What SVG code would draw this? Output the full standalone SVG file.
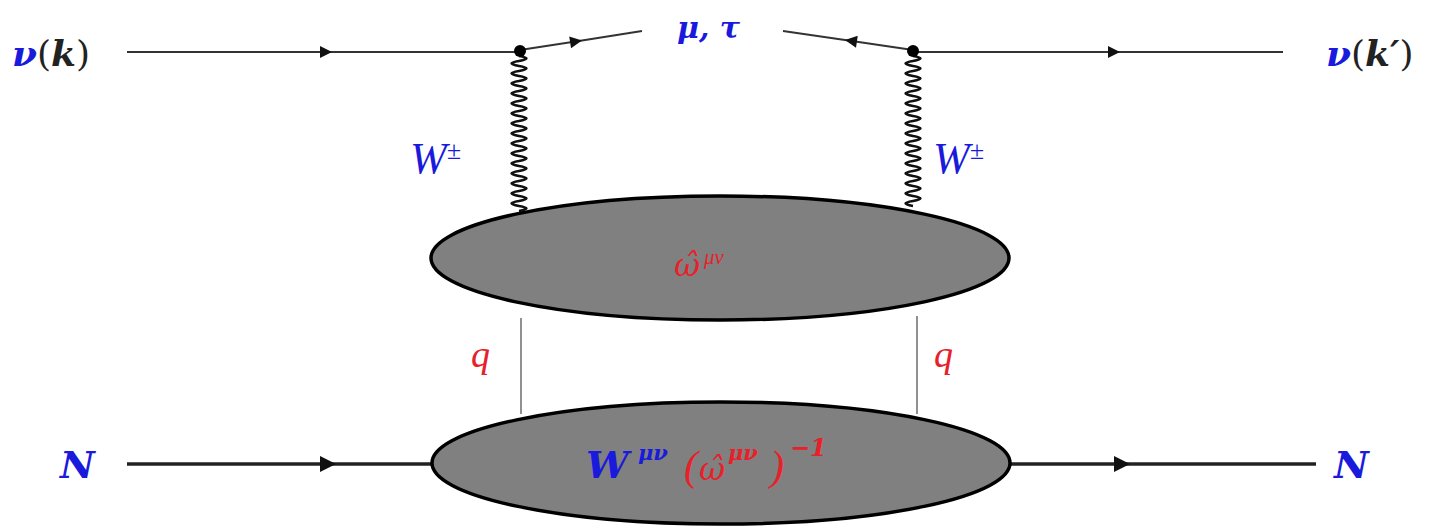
<svg xmlns="http://www.w3.org/2000/svg" width="1445" height="526" viewBox="0 0 1445 526">
<style>
.m{font-family:"DejaVu Serif","Liberation Serif",serif;font-style:italic;font-weight:bold}
.r{font-family:"Liberation Serif","DejaVu Serif",serif;font-style:italic;font-weight:normal}
.w{font-family:"DejaVu Serif",serif;font-style:italic;font-weight:normal}
.up{font-family:"DejaVu Serif","Liberation Serif",serif;font-style:normal;font-weight:normal}
.blue{fill:#1a1adc}
.red{fill:#e8202a}
.blk{fill:#222}
.thin{stroke:#333;stroke-width:2;fill:none}
.thick{stroke:#222;stroke-width:3.5;fill:none}
.vline{stroke:#555;stroke-width:1.3;fill:none}
.wave{stroke:#111;stroke-width:2.4;fill:none}
.blob{fill:#808080;stroke:#000;stroke-width:3.5}
</style>
<defs>
<marker id="arr" viewBox="0 0 10 10" refX="10" refY="5" markerWidth="20" markerHeight="12" markerUnits="userSpaceOnUse" orient="auto">
<path d="M0,0 L10,5 L0,10 Z" fill="#111"/>
</marker>
<marker id="arrB" viewBox="0 0 10 10" refX="10" refY="5" markerWidth="26" markerHeight="16" markerUnits="userSpaceOnUse" orient="auto">
<path d="M0,0 L10,5 L0,10 Z" fill="#111"/>
</marker>
</defs>
<g id="connectors">
<path class="thin" d="M127,52 L332,52 L520,52" marker-mid="url(#arr)"/>
<path class="thin" d="M913,52 L1120,52 L1283,52" marker-mid="url(#arr)"/>
<path class="thin" d="M520,50 L582,40.5 L642,31" marker-mid="url(#arr)"/>
<path class="thin" d="M913,50 L845,40 L783,31" marker-mid="url(#arr)"/>
<path class="thick" d="M127,464 L336,464 L433,464" marker-mid="url(#arrB)"/>
<path class="thick" d="M1010,464 L1130,464 L1316,464" marker-mid="url(#arrB)"/>
<path class="wave" d="M519,56 q15,2.5 0,5 q-15,2.5 0,5 q15,2.5 0,5 q-15,2.5 0,5 q15,2.5 0,5 q-15,2.5 0,5 q15,2.5 0,5 q-15,2.5 0,5 q15,2.5 0,5 q-15,2.5 0,5 q15,2.5 0,5 q-15,2.5 0,5 q15,2.5 0,5 q-15,2.5 0,5 q15,2.5 0,5 q-15,2.5 0,5 q15,2.5 0,5 q-15,2.5 0,5 q15,2.5 0,5 q-15,2.5 0,5 q15,2.5 0,5 q-15,2.5 0,5 q15,2.5 0,5 q-15,2.5 0,5 q15,2.5 0,5 q-15,2.5 0,5 q15,2.5 0,5 q-15,2.5 0,5 q15,2.5 0,5 q-15,2.5 0,5 q15,2.5 0,5"/>
<path class="wave" d="M913,56 q15,2.5 0,5 q-15,2.5 0,5 q15,2.5 0,5 q-15,2.5 0,5 q15,2.5 0,5 q-15,2.5 0,5 q15,2.5 0,5 q-15,2.5 0,5 q15,2.5 0,5 q-15,2.5 0,5 q15,2.5 0,5 q-15,2.5 0,5 q15,2.5 0,5 q-15,2.5 0,5 q15,2.5 0,5 q-15,2.5 0,5 q15,2.5 0,5 q-15,2.5 0,5 q15,2.5 0,5 q-15,2.5 0,5 q15,2.5 0,5 q-15,2.5 0,5 q15,2.5 0,5 q-15,2.5 0,5 q15,2.5 0,5 q-15,2.5 0,5 q15,2.5 0,5 q-15,2.5 0,5 q15,2.5 0,5 q-15,2.5 0,5"/>
<path class="vline" d="M521,318 L521,414"/>
<path class="vline" d="M917,316 L917,414"/>
</g>
<g id="vertex-left"><circle cx="520" cy="51" r="6" fill="#000"/></g>
<g id="vertex-right"><circle cx="913" cy="51" r="6" fill="#000"/></g>
<g id="blob-upper">
<ellipse class="blob" cx="720" cy="258" rx="289" ry="62"/>
<text class="w red" x="674" y="276" font-size="32">ω̂<tspan class="r" x="704" y="264" font-size="21">μν</tspan></text>
</g>
<g id="blob-lower">
<ellipse class="blob" cx="721" cy="463" rx="289" ry="61"/>
<text class="m blue" x="586" y="478" font-size="38">W<tspan x="638" y="460" font-size="21">μν</tspan></text>
<text class="r red" x="684" y="480" font-size="42">(<tspan class="w" font-size="32" x="699">ω̂</tspan><tspan class="m" x="728" y="460" font-size="21">μν</tspan><tspan x="770" y="480">)</tspan><tspan class="m" x="790" y="456" font-size="24">−1</tspan></text>
</g>
<g id="labels">
<text class="m" x="12" y="66" font-size="36"><tspan class="blue">ν</tspan><tspan class="blk up">(</tspan><tspan class="blk">k</tspan><tspan class="blk up">)</tspan></text>
<text class="m blue" x="677" y="38" font-size="30">μ, τ</text>
<text class="m" x="1326" y="66" font-size="36"><tspan class="blue">ν</tspan><tspan class="blk up">(</tspan><tspan class="blk">k′</tspan><tspan class="blk up">)</tspan></text>
<text class="r blue" x="410" y="173" font-size="44">W<tspan font-size="26" dy="-14">±</tspan></text>
<text class="r blue" x="933" y="173" font-size="44">W<tspan font-size="26" dy="-14">±</tspan></text>
<text class="r red" x="471" y="367" font-size="38">q</text>
<text class="r red" x="934" y="367" font-size="38">q</text>
<text class="m blue" x="60" y="478" font-size="38">N</text>
<text class="m blue" x="1334" y="478" font-size="38">N</text>
</g>
</svg>
